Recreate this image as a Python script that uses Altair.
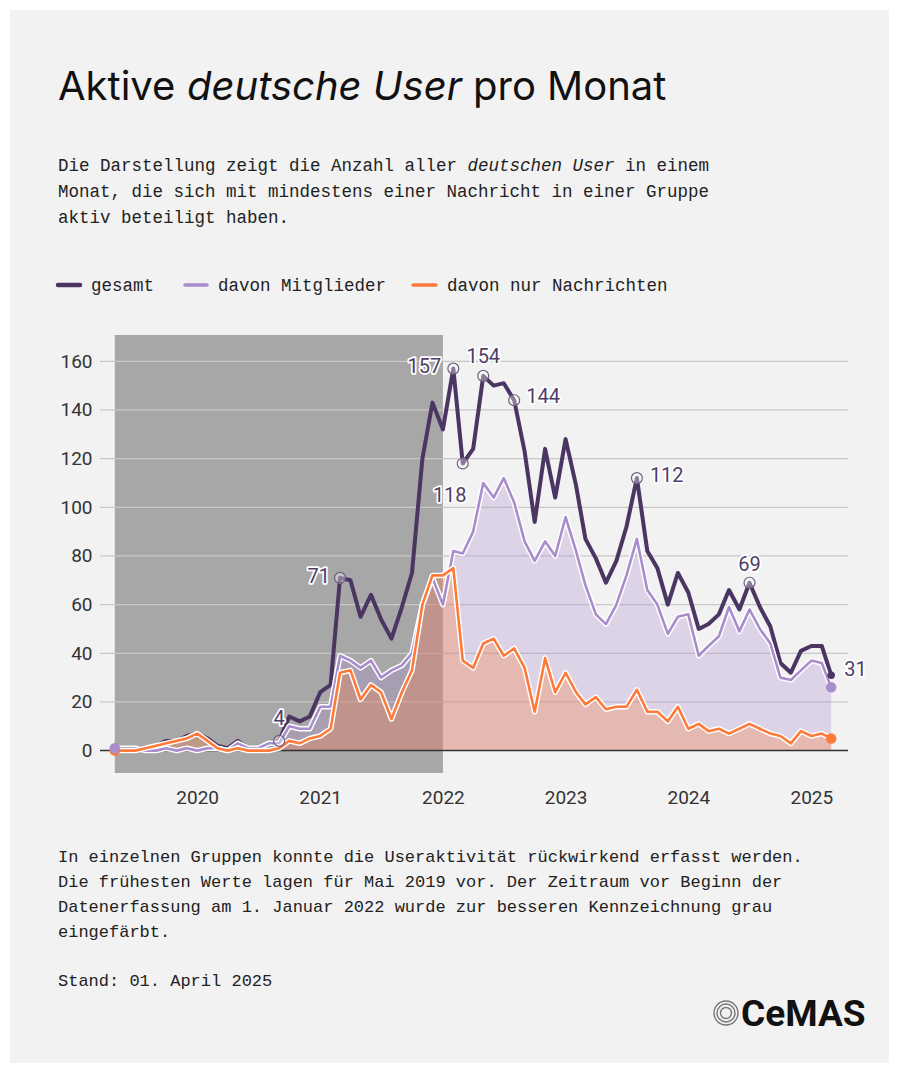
import altair as alt
import pandas as pd

# ---------------- data ----------------
all_months = [f"{y}-{m:02d}" for y in range(2019, 2026) for m in range(1, 13)]
months = all_months[4:75]  # May 2019 .. March 2025

gesamt = [
    1, 1, 1, 1, 2, 4, 4, 6,
    7, 5, 2, 1, 4, 1, 1, 3, 4, 14, 12, 14,
    24, 27, 71, 70, 55, 64, 54, 46, 59, 73, 120, 143,
    132, 157, 118, 124, 154, 150, 151, 144, 123, 94, 124, 104,
    128, 109, 87, 79, 69, 78, 92, 112, 82, 75, 60, 73,
    65, 50, 52, 56, 66, 58, 69, 59, 51, 36, 32, 41,
    43, 43, 31,
]
mitglieder = [
    1, 1, 1, 0, 0, 1, 0, 1,
    0, 1, 1, 0, 3, 1, 1, 3, 3, 10, 9, 9,
    18, 18, 39, 37, 34, 37, 30, 33, 35, 40, 60, 71,
    60, 82, 81, 90, 110, 104, 112, 102, 86, 78, 86, 80,
    96, 82, 68, 56, 52, 60, 72, 87, 66, 60, 48, 55,
    56, 39, 43, 47, 59, 49, 58, 50, 44, 30, 29, 33,
    37, 36, 26,
]
nachrichten = [
    0, 0, 0, 1, 2, 3, 4, 5,
    7, 4, 1, 0, 1, 0, 0, 0, 1, 4, 3, 5,
    6, 9, 32, 33, 21, 27, 24, 13, 24, 33, 60, 72,
    72, 75, 37, 34, 44, 46, 39, 42, 34, 16, 38, 24,
    32, 24, 19, 22, 17, 18, 18, 25, 16, 16, 12, 18,
    9, 11, 8, 9, 7, 9, 11, 9, 7, 6, 3, 8,
    6, 7, 5,
]

y_ticks = [0, 20, 40, 60, 80, 100, 120, 140, 160]
year_ticks = [2020, 2021, 2022, 2023, 2024, 2025]

gray_start = "2019-05"
gray_end = "2022-01"

# annotated months on the "gesamt" line
ann_months = ["2020-09", "2021-03", "2022-02", "2022-03", "2022-05", "2022-08", "2023-08", "2024-07", "2025-03"]

# ---------------- styling ----------------
W, H = 748, 438
DARK = "#4a3563"
LAV = "#a98ccb"
ORA = "#fd7a3a"
CARD = "#f2f2f2"
GRAY = "#a7a7a7"
TXT = "#1a1a1a"
SANS = "Roboto"
TITLE_FONT = "Inter"
MONO = "Liberation Mono"

def d(m):
    return m + "-01T00:00:00"

df = pd.DataFrame({
    "month": [d(m) for m in months],
    "gesamt": gesamt,
    "mitglieder": mitglieder,
    "nachrichten": nachrichten,
})

x_scale = alt.Scale(domain=["2019-03-18T00:00:00", "2025-04-20T00:00:00"])
y_scale = alt.Scale(domain=[-9.2, 170.8], nice=False, zero=False)

x_axis = alt.Axis(
    values=[alt.DateTime(year=y, month=1, date=1) for y in year_ticks],
    format="%Y", grid=False, domain=False, ticks=False, tickSize=0,
    labelPadding=15, labelFont=SANS, labelFontSize=19, labelColor="#333333", zindex=1,
)
y_axis = alt.Axis(
    values=y_ticks, grid=False, domain=False, ticks=False, tickSize=0,
    labelPadding=8, labelFont=SANS, labelFontSize=19, labelColor="#333333", zindex=1,
)

def X(field):
    return alt.X(f"{field}:T", scale=x_scale, axis=x_axis, title=None)

def Y(field):
    return alt.Y(f"{field}:Q", scale=y_scale, axis=y_axis, title=None)

one = pd.DataFrame({"k": [0]})
layers = []

# card background (white frame around)
layers.append(alt.Chart(one).mark_rect(color=CARD).encode(
    x=alt.value(-90), x2=alt.value(789), y=alt.value(-325), y2=alt.value(728)))

# grey period
gray_df = pd.DataFrame({"start": [d(gray_start)], "end": [d(gray_end)]})
layers.append(alt.Chart(gray_df).mark_rect(color=GRAY).encode(
    x=X("start"), x2="end:T", y=alt.value(0), y2=alt.value(H)))

# gridlines
grid_df = pd.DataFrame({"v": [v for v in y_ticks if v != 0]})
layers.append(alt.Chart(grid_df).mark_rule(color="#c8c8c8", strokeWidth=1.3).encode(
    y=Y("v"), x=alt.value(0), x2=alt.value(W)))

# areas
layers.append(alt.Chart(df).mark_area(color=LAV, opacity=0.3, interpolate="linear").encode(
    x=X("month"), y=Y("mitglieder"), y2=alt.datum(0)))
layers.append(alt.Chart(df).mark_area(color=ORA, opacity=0.3, interpolate="linear").encode(
    x=X("month"), y=Y("nachrichten"), y2=alt.datum(0)))

# zero line
zero_df = pd.DataFrame({"v": [0]})
layers.append(alt.Chart(zero_df).mark_rule(color="#333333", strokeWidth=1.5).encode(
    y=Y("v"), x=alt.value(0), x2=alt.value(W)))

# lines
layers.append(alt.Chart(df).mark_line(color=DARK, strokeWidth=4, strokeJoin="round", strokeCap="round").encode(
    x=X("month"), y=Y("gesamt")))
for field, col in [("mitglieder", LAV), ("nachrichten", ORA)]:
    layers.append(alt.Chart(df).mark_line(color="white", strokeWidth=5.5, strokeJoin="round", strokeCap="round").encode(
        x=X("month"), y=Y(field)))
    layers.append(alt.Chart(df).mark_line(color=col, strokeWidth=2.6, strokeJoin="round", strokeCap="round").encode(
        x=X("month"), y=Y(field)))

# end dots
ends = df.iloc[[0, len(df) - 1]]
for field, col, sz in [("gesamt", DARK, 55), ("nachrichten", ORA, 110), ("mitglieder", LAV, 110)]:
    layers.append(alt.Chart(ends).mark_point(filled=True, color=col, size=sz, opacity=1).encode(
        x=X("month"), y=Y(field)))

# annotation circles
ann_df = df[df["month"].isin([d(m) for m in ann_months])].copy()
circ_df = ann_df[ann_df["month"] != d("2025-03")]
layers.append(alt.Chart(circ_df).mark_point(shape="circle", filled=False, size=120, stroke="#6e6180",
                                            strokeWidth=1.2, fill="#ffffff", fillOpacity=0.35).encode(
    x=X("month"), y=Y("gesamt")))

# annotation labels (dx, dy, align)
ann_style = {
    "2020-09": (0, -22, "center"),
    "2021-03": (-10, -1, "right"),
    "2022-02": (-12, -2, "right"),
    "2022-03": (-13, 33, "center"),
    "2022-05": (0, -19, "center"),
    "2022-08": (12, -3, "left"),
    "2023-08": (13, -2, "left"),
    "2024-07": (0, -18, "center"),
    "2025-03": (13, -5, "left"),
}
for m in ann_months:
    dx, dy, al = ann_style[m]
    row = ann_df[ann_df["month"] == d(m)]
    for halo in (True, False):
        kw = dict(dx=dx, dy=dy, align=al, baseline="middle", font=SANS, fontSize=20, color="#4f3d68")
        if halo:
            kw.update(stroke="white", strokeWidth=3.5, strokeJoin="round", color="white")
        layers.append(alt.Chart(row).mark_text(**kw).encode(
            x=X("month"), y=Y("gesamt"), text="gesamt:Q"))

# ---------------- text blocks (positions relative to plot origin 100,335) ----------------
def txt(s, x, y, size, font, italic=False, weight="normal", color=TXT):
    kw = dict(text=s, align="left", baseline="alphabetic", font=font, fontSize=size,
              fontWeight=weight, color=color)
    if italic:
        kw["fontStyle"] = "italic"
    return alt.Chart(one).mark_text(**kw).encode(x=alt.value(x), y=alt.value(y))

# title
layers.append(txt("Aktive", -42, -235, 40, TITLE_FONT, color="#111111"))
layers.append(txt("deutsche User", 87, -235, 40, TITLE_FONT, italic=True, color="#111111"))
layers.append(txt("pro Monat", 373, -235, 40, TITLE_FONT, color="#111111"))

# subtitle (monospace)
FS = 17.5
ADV = FS * 0.6
layers.append(txt("Die Darstellung zeigt die Anzahl aller", -42, -164, FS, MONO, color="#222222"))
layers.append(txt("deutschen User", -42 + 39 * ADV, -164, FS, MONO, italic=True, color="#222222"))
layers.append(txt("in einem", -42 + 54 * ADV, -164, FS, MONO, color="#222222"))
layers.append(txt("Monat, die sich mit mindestens einer Nachricht in einer Gruppe", -42, -138, FS, MONO, color="#222222"))
layers.append(txt("aktiv beteiligt haben.", -42, -112, FS, MONO, color="#222222"))

# legend
for x1, x2, col, sw, label, tx in [(-42, -20, DARK, 4.5, "gesamt", -9),
                                   (85, 107, LAV, 3.5, "davon Mitglieder", 118),
                                   (313, 336, ORA, 3.5, "davon nur Nachrichten", 347)]:
    layers.append(alt.Chart(one).mark_rule(color=col, strokeWidth=sw, strokeCap="round").encode(
        x=alt.value(x1), x2=alt.value(x2), y=alt.value(-50)))
    layers.append(txt(label, tx, -44, FS, MONO, color="#222222"))

# footer
FF = 17
foot = [
    "In einzelnen Gruppen konnte die Useraktivität rückwirkend erfasst werden.",
    "Die frühesten Werte lagen für Mai 2019 vor. Der Zeitraum vor Beginn der",
    "Datenerfassung am 1. Januar 2022 wurde zur besseren Kennzeichnung grau",
    "eingefärbt.",
]
for i, line in enumerate(foot):
    layers.append(txt(line, -42, 527 + 25 * i, FF, MONO, color="#222222"))
layers.append(txt("Stand: 01. April 2025", -42, 651, FF, MONO, color="#222222"))

# logo
for sz in [576, 324, 121]:
    layers.append(alt.Chart(one).mark_point(shape="circle", filled=False, size=sz, stroke="#444444",
                                            strokeWidth=1.4).encode(x=alt.value(626), y=alt.value(678)))
layers.append(txt("CeMAS", 641, 691, 37, SANS, weight="bold", color="#111111"))

chart = alt.layer(*layers).properties(
    width=W, height=H,
    padding={"left": 100, "top": 335, "right": 51, "bottom": 300},
    autosize=alt.AutoSizeParams(type="none"),
).configure(background="white").configure_view(strokeWidth=0)

chart.save("out.html", embed_options={"renderer": "svg", "actions": False})
